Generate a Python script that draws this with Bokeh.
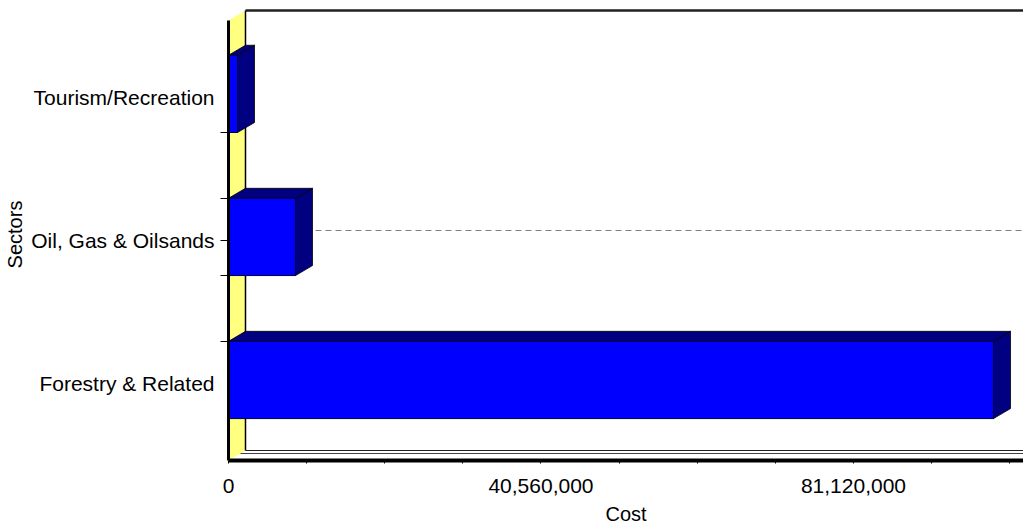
from bokeh.plotting import figure
from bokeh.models import Range1d, FixedTicker, NumeralTickFormatter, ColumnDataSource
from bokeh.embed import file_html
from bokeh.resources import INLINE

# ---- data ----
sectors = ["Forestry & Related", "Oil, Gas & Oilsands", "Tourism/Recreation"]
costs = [99_300_000, 8_700_000, 1_170_000]
x_major_ticks = [0, 40_560_000, 81_120_000]
x_minor_ticks = [10_140_000, 20_280_000, 30_420_000, 50_700_000, 60_840_000,
                 70_980_000, 91_260_000, 101_400_000]
grid_sector = "Oil, Gas & Oilsands"

# ---- style / geometry constants ----
X_MAX = 103_190_000
DX = 2_206_000        # 3D depth along x (data units)
DY = 0.07             # 3D depth along y (category units)
BAR_H = 0.54
BAR_SHIFT = 0.025
Y_START = -0.538
Y_END = 2.622
WALL_TOP = 2.608
FONT = "Liberation Sans"
BLUE = "#0000FF"
NAVY = "#000080"
YELLOW = "#FFFF80"

ys = list(range(len(sectors)))

p = figure(width=1023, height=527, output_backend="svg", toolbar_location=None,
           x_range=Range1d(0, X_MAX), y_range=Range1d(Y_START, Y_END),
           min_border_left=228, min_border_right=0, min_border_top=8,
           min_border_bottom=67, background_fill_color="white",
           border_fill_color="white", outline_line_color=None)
p.xgrid.visible = False
p.ygrid.visible = False

# back wall / floor frame lines
p.line([DX, X_MAX + DX], [WALL_TOP, WALL_TOP], line_color="#202020", line_width=2.5)
p.line([DX, X_MAX + DX], [Y_START + DY, Y_START + DY], line_color="#202020", line_width=1.2)
p.line([DX * 0.6, X_MAX + DX], [Y_START + DY * 0.7, Y_START + DY * 0.7],
       line_color="#404040", line_width=1)

# dashed gridline on back wall
gi = sectors.index(grid_sector)
p.line([DX, X_MAX + DX], [gi + DY, gi + DY], line_color="#808080",
       line_width=1.2, line_dash="6 4")

# left (yellow) wall
p.patch([0, DX, DX, 0], [Y_START, Y_START + DY, WALL_TOP, WALL_TOP - DY],
        fill_color=YELLOW, line_color=None)
p.line([DX, DX], [Y_START + DY, WALL_TOP], line_color="black", line_width=1.5)

# bars (3D)
top_xs, top_ys, side_xs, side_ys, centers = [], [], [], [], []
for y, v in zip(ys, costs):
    c = y + BAR_SHIFT
    centers.append(c)
    t = c + BAR_H / 2
    b = c - BAR_H / 2
    top_xs.append([0, DX, v + DX, v])
    top_ys.append([t, t + DY, t + DY, t])
    side_xs.append([v, v + DX, v + DX, v])
    side_ys.append([b, b + DY, t + DY, t])

p.patches(xs=top_xs, ys=top_ys, fill_color=NAVY, line_color="black", line_width=0.8)
p.patches(xs=side_xs, ys=side_ys, fill_color=NAVY, line_color="black", line_width=0.8)
src = ColumnDataSource(dict(y=centers, right=costs))
p.hbar(y="y", left=0, right="right", height=BAR_H, source=src,
       fill_color=BLUE, line_color="#000040", line_width=1)

# x axis
xa = p.xaxis[0]
xa.ticker = FixedTicker(ticks=x_major_ticks, minor_ticks=x_minor_ticks)
xa.formatter = NumeralTickFormatter(format="0,0")
xa.axis_line_width = 4
xa.axis_line_color = "black"
xa.major_tick_out = 3
xa.major_tick_in = 0
xa.minor_tick_out = 3
xa.minor_tick_in = 0
xa.major_label_standoff = 15
xa.major_label_text_font = FONT
xa.major_label_text_font_size = "21px"
xa.major_label_text_color = "black"
xa.axis_label = "Cost"
xa.axis_label_text_font = FONT
xa.axis_label_text_font_size = "20px"
xa.axis_label_text_font_style = "normal"
xa.axis_label_text_color = "black"
xa.axis_label_standoff = 7

# y axis
ya = p.yaxis[0]
minor_y = []
for i, c in zip(ys, centers):
    if i > 0:
        minor_y.append(c - BAR_H / 2)
    if i < len(ys) - 1:
        minor_y.append(c + BAR_H / 2)
minor_y.append(gi)
ya.ticker = FixedTicker(ticks=ys, minor_ticks=minor_y)
ya.major_label_overrides = {i: s for i, s in zip(ys, sectors)}
ya.bounds = (Y_START, WALL_TOP - DY)
ya.axis_line_width = 3
ya.axis_line_color = "black"
ya.major_tick_out = 0
ya.major_tick_in = 0
ya.minor_tick_out = 8
ya.minor_tick_in = 0
ya.major_label_standoff = 6
ya.major_label_text_font = FONT
ya.major_label_text_font_size = "21px"
ya.major_label_text_color = "black"
ya.axis_label = "Sectors"
ya.axis_label_text_font = FONT
ya.axis_label_text_font_size = "20px"
ya.axis_label_text_font_style = "normal"
ya.axis_label_text_color = "black"
ya.axis_label_standoff = 2

open("out.html", "w").write(file_html(p, INLINE))
